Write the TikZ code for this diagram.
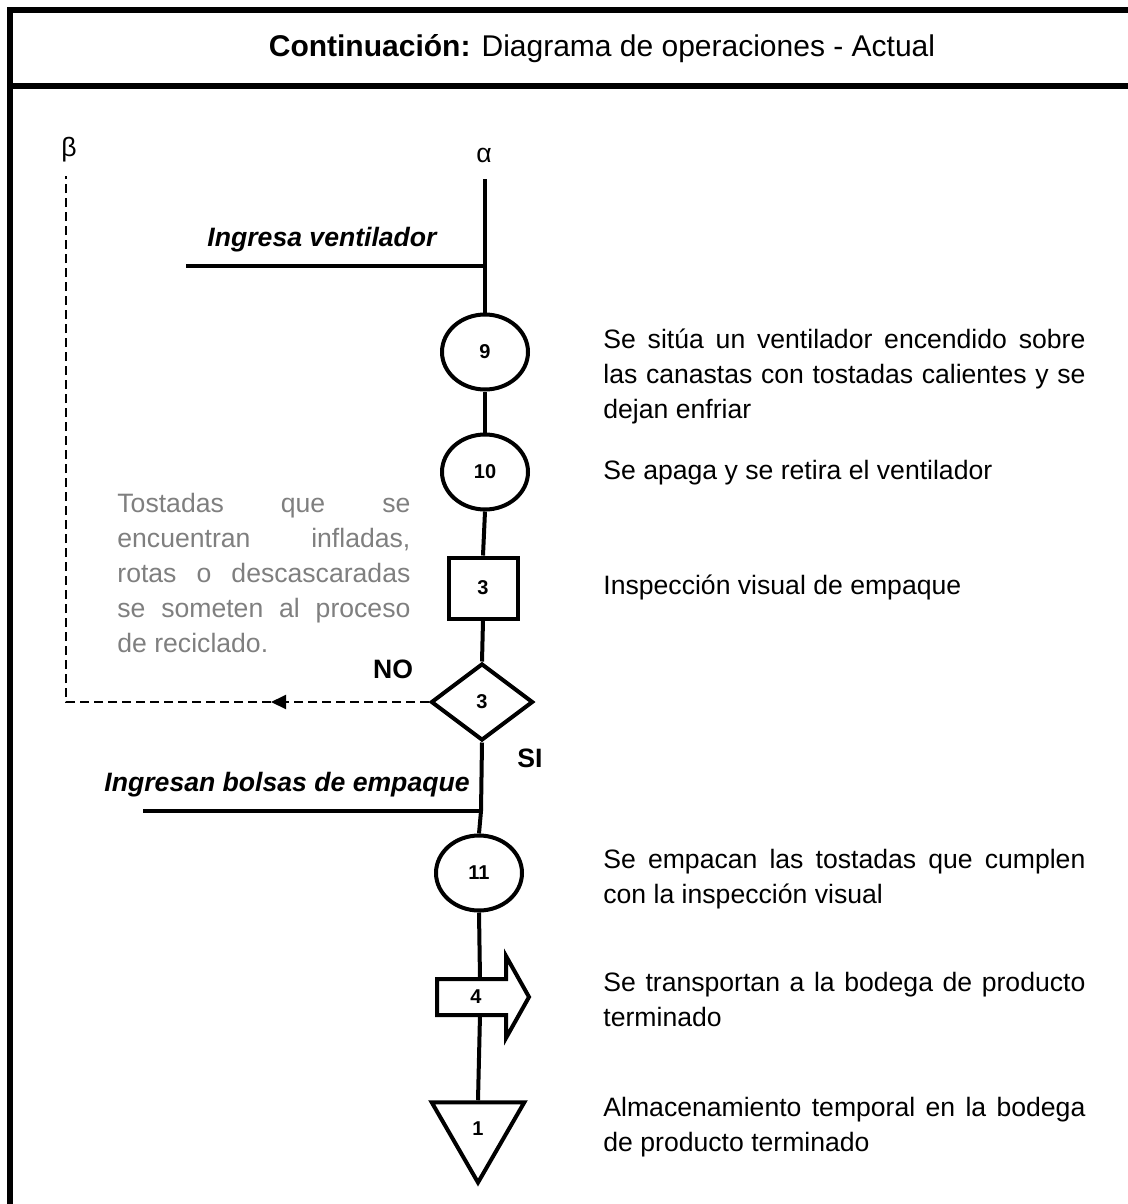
\documentclass[tikz,border=0pt]{standalone}
\usepackage{fontspec}
\setmainfont{Liberation Sans}
\usetikzlibrary{shapes.geometric,arrows.meta}

\definecolor{notegray}{HTML}{7F7F7F}

\begin{document}
\begin{tikzpicture}[x=0.5pt,y=-0.5pt,
  frameline/.style={line width=3pt,line join=miter},
  flow/.style={line width=2pt},
  reject/.style={line width=1pt,dash pattern=on 4.5pt off 2.5pt},
  numfont/.style={font=\bfseries\fontsize{10}{12}\selectfont},
  opcircle/.style={ellipse,draw,line width=2pt,inner sep=0pt,
    minimum width=43pt,minimum height=37.5pt,numfont},
  inspbox/.style={rectangle,draw,line width=2pt,inner sep=0pt,
    minimum width=34.5pt,minimum height=30.5pt,numfont},
  decision/.style={diamond,draw,line width=2pt,inner sep=0pt,
    minimum width=51pt,minimum height=38.5pt,numfont},
  storage/.style={regular polygon,regular polygon sides=3,shape border rotate=180,
    draw,line width=2pt,inner sep=0pt,minimum size=53.5pt,numfont},
  bodytext/.style={inner sep=0pt,font=\fontsize{13.3}{17.5}\selectfont},
  desc/.style={bodytext,anchor=base west},
  inlabel/.style={inner sep=0pt,font=\bfseries\itshape\fontsize{13.3}{16}\selectfont,anchor=east},
  branch/.style={inner sep=0pt,font=\bfseries\fontsize{13.3}{16}\selectfont}
]
\useasboundingbox (0,0) rectangle (1128,1204);

% outer frame and title bar
\draw[frameline] (9.5,1204) -- (9.5,10) -- (1128,10);
\draw[frameline] (8,86) -- (1128,86);
\node[inner sep=0pt,font=\fontsize{15}{18}\selectfont] (title) at (602,49)
  {\textbf{Continuación:} Diagrama de operaciones - Actual};

% connectors' letters
\node[bodytext] (alpha) at (484,155) {α};
\node[bodytext] (beta) at (69,150) {β};

% symbols of the process
\node[opcircle] (op9)  at (485,352) {9};
\node[opcircle] (op10) at (485,472) {10};
\node[inspbox]  (in3)  at (483,588) {3};
\node[decision] (dc3)  at (482,702) {3};
\node[opcircle] (op11) at (479,873) {11};
\node[storage]  (st1)  at (478,1129) {1};

% transport arrow
\draw[flow,line join=miter] (437,979) -- (506,979) -- (506,956) -- (529,997)
  -- (506,1038) -- (506,1015) -- (437,1015) -- cycle;
\node[numfont,inner sep=0pt] (tr4) at (476,997) {4};
\coordinate (tr4top) at (480,979);
\coordinate (tr4bot) at (480,1015);

% main flow line
\coordinate (atop) at (485,179);
\coordinate (jvent) at (485,266);
\coordinate (fvent) at (186,266);
\coordinate (jbags) at (481,811);
\coordinate (fbags) at (143,811);

\draw[flow] (atop) -- (op9.north);
\draw[flow] (fvent) -- (jvent);
\draw[flow] (op9.south) -- (op10.north);
\draw[flow] (op10.south) -- (in3.north);
\draw[flow] (in3.south) -- (dc3.north);
\draw[flow] (dc3.south) -- (jbags) -- (op11.north);
\draw[flow] (fbags) -- (jbags);
\draw[flow] (op11.south) -- (tr4top);
\draw[flow] (tr4bot) -- (st1.north);

% rejected product goes back to beta
\coordinate (rtip) at (271,702);
\coordinate (rcorner) at (66,702);
\coordinate (rtop) at (66,176);
\draw[reject,-{Triangle[length=7.5pt,width=7pt]}] (dc3.west) -- (rtip);
\draw[reject] (rtip) -- (rcorner) -- (rtop);

% incoming materials
\node[inlabel] (lvent) at (437,240) {Ingresa ventilador};
\node[inlabel] (lbags) at (470,785) {Ingresan bolsas de empaque};

% decision branches
\node[branch] (lno) at (393,669) {NO};
\node[branch] (lsi) at (530,758) {SI};

% note on the rejected product
\node[desc,text=notegray] (note) at (117,512) {\parbox[t]{146.5pt}{%
  Tostadas que se\linebreak encuentran infladas,\linebreak rotas o descascaradas\linebreak
  se someten al proceso\linebreak de reciclado.}};

% descriptions of each step
\node[desc] (d9) at (603,348) {\parbox[t]{241pt}{%
  Se sitúa un ventilador encendido sobre\linebreak las canastas con tostadas calientes y se\linebreak dejan enfriar}};
\node[desc] (d10) at (603,479) {Se apaga y se retira el ventilador};
\node[desc] (d3) at (603,594) {Inspección visual de empaque};
\node[desc] (d11) at (603,868) {\parbox[t]{241pt}{%
  Se empacan las tostadas que cumplen\linebreak con la inspección visual}};
\node[desc] (d4) at (603,991) {\parbox[t]{241pt}{%
  Se transportan a la bodega de producto\linebreak terminado}};
\node[desc] (d1) at (603,1116) {\parbox[t]{241pt}{%
  Almacenamiento temporal en la bodega\linebreak de producto terminado}};
\end{tikzpicture}
\end{document}
